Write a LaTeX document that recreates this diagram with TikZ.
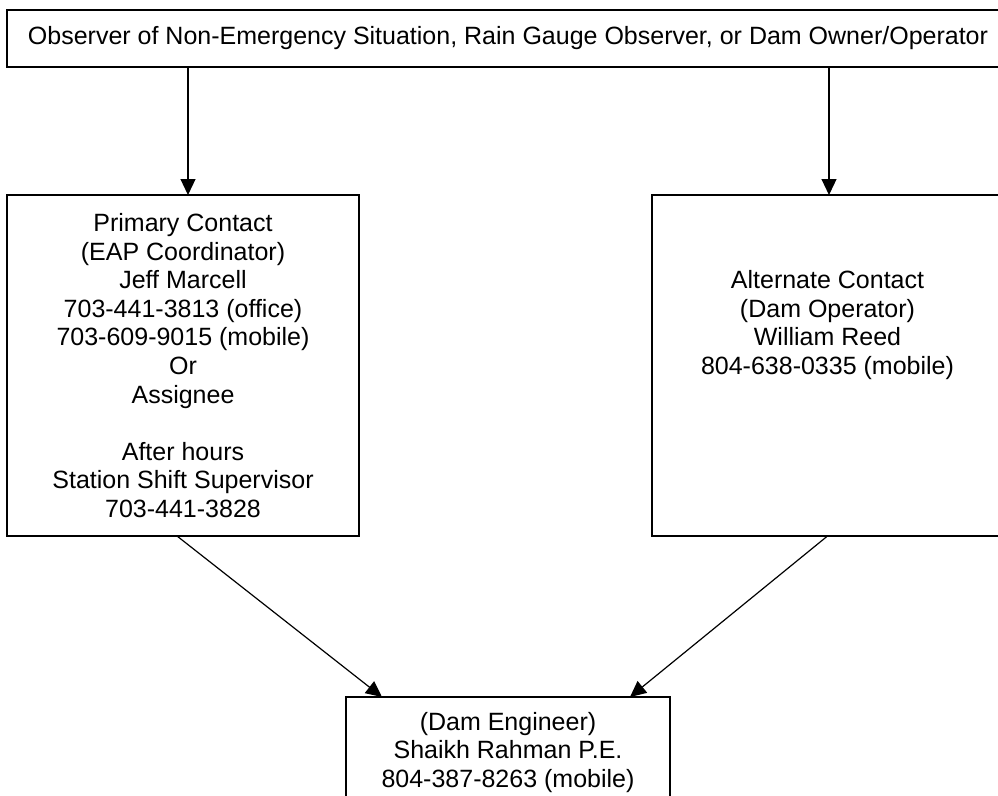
\documentclass[tikz,border=0pt]{standalone}
\usepackage{fontspec}
\setmainfont{Liberation Sans}
\usetikzlibrary{arrows.meta}

\begin{document}
\begin{tikzpicture}[x=1pt,y=-1pt,
  box/.style={draw,line width=1.6pt,align=center,inner sep=0pt,outer sep=0pt,
    font=\fontsize{25}{28.6}\selectfont},
  arr/.style={-{Triangle[length=16pt,width=15pt]},line width=1.2pt}]
\useasboundingbox(0,0)rectangle(998,795);
\clip(0,0)rectangle(998,795);
\node[box,minimum width=1002pt,minimum height=57pt](obs)at(508,38.5)
  {Observer of Non-Emergency Situation, Rain Gauge Observer, or Dam Owner/Operator};
\node[box,minimum width=352pt,minimum height=341pt](prim)at(183,365.5)
  {Primary Contact\\(EAP Coordinator)\\Jeff Marcell\\703-441-3813 (office)\\
   703-609-9015 (mobile)\\Or\\Assignee\\ \mbox{}\\After hours\\
   Station Shift Supervisor\\703-441-3828};
\node[box,minimum width=351pt,minimum height=341pt](alt)at(827.5,365.5)
  {Alternate Contact\\(Dam Operator)\\William Reed\\804-638-0335 (mobile)\\
   \mbox{}\\ \mbox{}\\ \mbox{}};
\node[box,anchor=north,minimum width=324pt,minimum height=111pt](eng)at(508,697)
  {(Dam Engineer)\\Shaikh Rahman P.E.\\804-387-8263 (mobile)};
\draw[arr]([xshift=5pt]prim.north|-obs.south)--([xshift=5pt]prim.north);
\draw[arr]([xshift=1.5pt]alt.north|-obs.south)--([xshift=1.5pt]alt.north);
\draw[arr]([xshift=-6pt]prim.south)--([xshift=36pt]eng.north west);
\draw[arr](alt.south)--([xshift=-40pt]eng.north east);
\end{tikzpicture}
\end{document}
